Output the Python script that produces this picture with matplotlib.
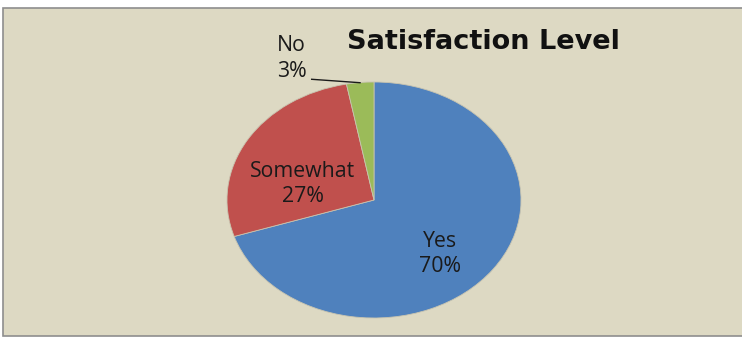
import matplotlib
matplotlib.use("Agg")
import matplotlib.pyplot as plt
from matplotlib.patches import Rectangle

categories = ["Yes", "Somewhat", "No"]
values = [70, 27, 3]
colors = ["#4F81BD", "#C0504D", "#9BBB59"]
title = "Satisfaction Level"

W, H = 742, 339
fig = plt.figure(figsize=(W / 100, H / 100), dpi=100)
fig.patch.set_facecolor("white")

# chart area frame
bg = fig.add_axes([0, 0, 1, 1])
bg.set_xlim(0, W)
bg.set_ylim(H, 0)
bg.axis("off")
bg.add_patch(Rectangle((2.5, 8), W + 10, 327.5, facecolor="#DDD9C3",
                       edgecolor="#8E8E8E", linewidth=1.2))

# pie axes (elliptical, like the stretched original)
left, right, top, bottom = 227, 521, 82, 318
ax = fig.add_axes([left / W, (H - bottom) / H, (right - left) / W, (bottom - top) / H])
wedges, _ = ax.pie(values, colors=colors, startangle=90, counterclock=False,
                   radius=1.0, center=(0, 0), frame=True,
                   wedgeprops=dict(linewidth=0.6, edgecolor="#C8C4B0"))
ax.set_xlim(-1, 1)
ax.set_ylim(-1, 1)
ax.set_aspect("auto")
ax.axis("off")

label_pos = [(0.449, -0.458), (-0.483, 0.136), (-0.561, 1.199)]
for cat, v, (x, y) in zip(categories, values, label_pos):
    ax.text(x, y, f"{cat}\n{v}%", ha="center", va="center", fontsize=15.3,
            color="#1A1A1A", family="Open Sans", linespacing=1.3, clip_on=False)

# leader line for "No"
ax.plot([-0.424, -0.095], [1.023, 0.994], color="#1A1A1A", linewidth=1.0,
        clip_on=False)

fig.text(483.5 / W, 1 - 42 / H, title, ha="center", va="center", fontsize=19.5,
         fontweight="bold", color="#111111", family="DejaVu Sans")

fig.savefig("out.png", dpi=100, facecolor=fig.get_facecolor())
